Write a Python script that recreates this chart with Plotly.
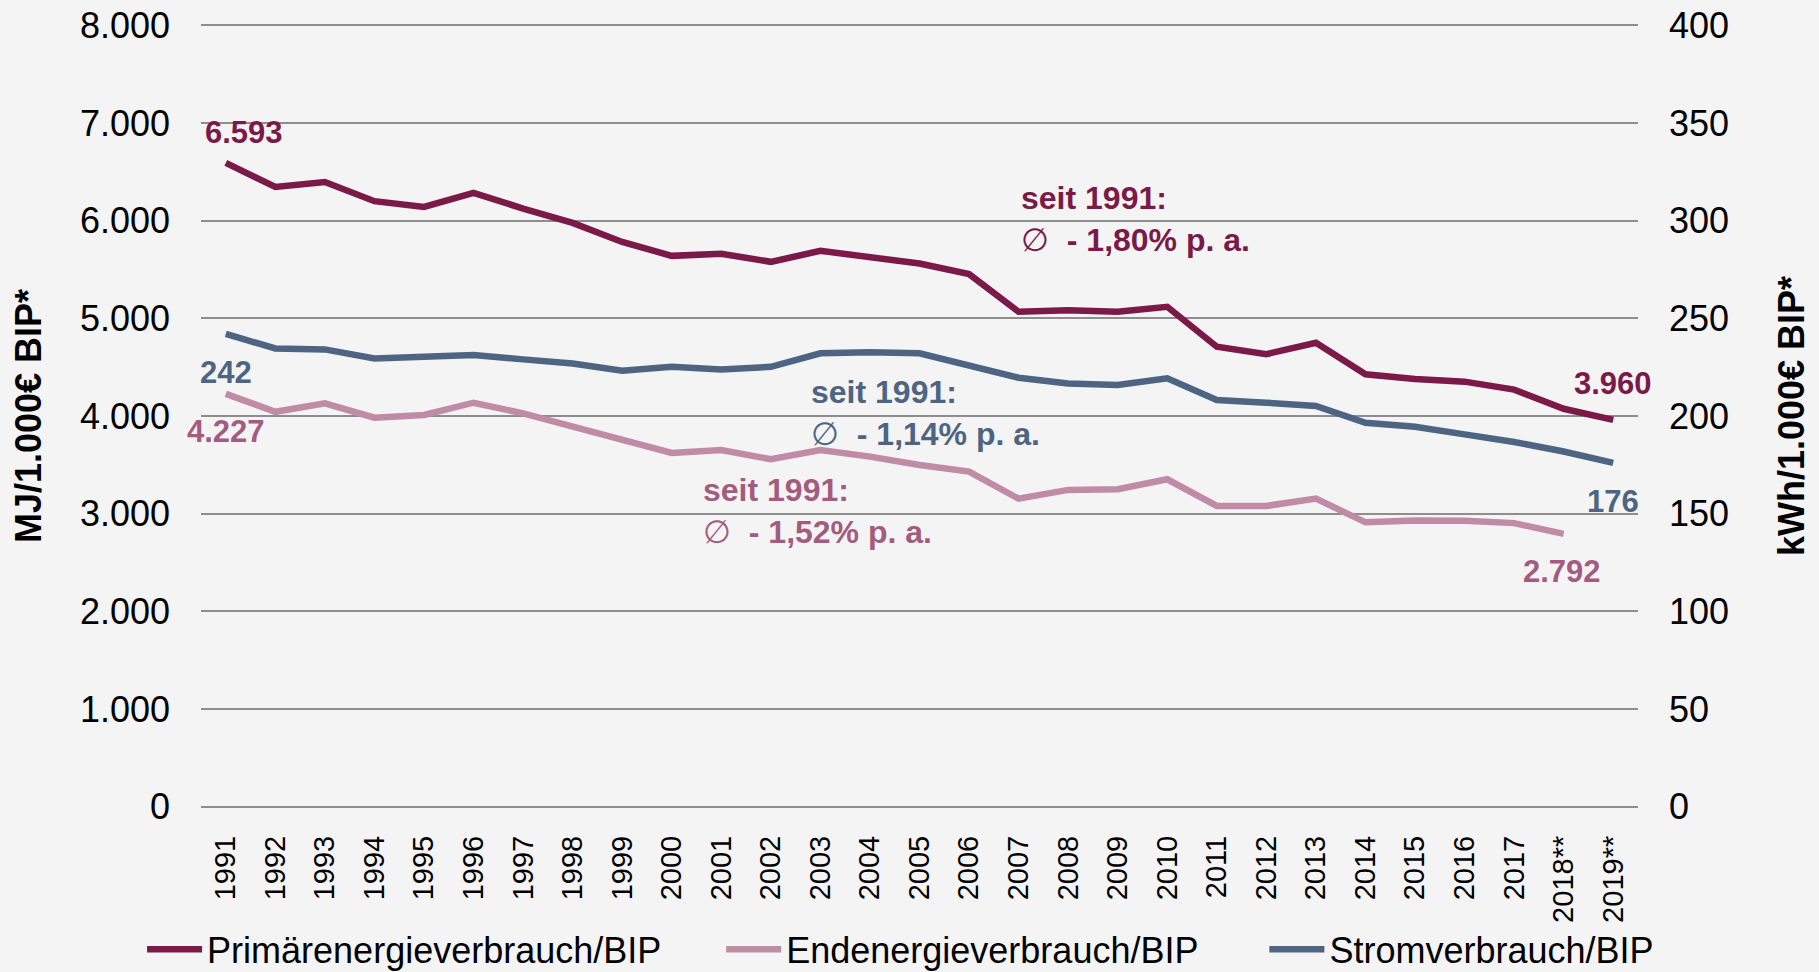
import plotly.graph_objects as go

years = ["1991", "1992", "1993", "1994", "1995", "1996", "1997", "1998", "1999", "2000",
         "2001", "2002", "2003", "2004", "2005", "2006", "2007", "2008", "2009", "2010",
         "2011", "2012", "2013", "2014", "2015", "2016", "2017", "2018**", "2019**"]

primaer = [6593, 6346, 6397, 6200, 6141, 6285, 6125, 5978, 5783, 5640,
           5662, 5579, 5691, 5620, 5562, 5453, 5067, 5084, 5067, 5118,
           4709, 4634, 4750, 4427, 4380, 4352, 4270, 4074, 3960]

endenergie = [4227, 4043, 4129, 3983, 4010, 4136, 4027, 3890, 3754, 3622,
              3652, 3557, 3652, 3584, 3499, 3430, 3153, 3243, 3250, 3352,
              3079, 3079, 3154, 2911, 2931, 2927, 2903, 2792, None]

strom = [242, 234.6, 234.1, 229.5, 230.3, 231.2, 229.0, 226.9, 223.2, 225.2,
         223.8, 225.2, 232.1, 232.6, 232.1, 225.6, 219.6, 216.7, 215.9, 219.3,
         208.2, 206.8, 205.1, 196.5, 194.5, 190.6, 186.7, 181.8, 176]

names = ["Primärenergieverbrauch/BIP", "Endenergieverbrauch/BIP", "Stromverbrauch/BIP"]
left_ticks = [0, 1000, 2000, 3000, 4000, 5000, 6000, 7000, 8000]
right_ticks = [0, 50, 100, 150, 200, 250, 300, 350, 400]

C_PRIM = "#7B1A48"
C_END = "#C08BA4"
C_END_TXT = "#A35C80"
C_STROM = "#4D6582"
FONT = "Liberation Sans, Arial, sans-serif"

fig = go.Figure()
fig.add_trace(go.Scatter(x=years, y=primaer, name=names[0], mode="lines", legend="legend",
                         line=dict(color=C_PRIM, width=6.5)))
fig.add_trace(go.Scatter(x=years, y=endenergie, name=names[1], mode="lines", legend="legend2",
                         line=dict(color=C_END, width=6.5)))
fig.add_trace(go.Scatter(x=years, y=strom, name=names[2], mode="lines", yaxis="y2", legend="legend3",
                         line=dict(color=C_STROM, width=6.5)))

def fmt(v):
    return f"{v:,.0f}".replace(",", ".")

first = 0
last = len(years) - 1
end_last = max(i for i, v in enumerate(endenergie) if v is not None)

labels = [
    dict(x=first, y=primaer[first], yref="y", text=fmt(primaer[first]), color=C_PRIM, xs=18, ys=30),
    dict(x=first, y=strom[first], yref="y2", text=fmt(strom[first]), color=C_STROM, xs=0, ys=-39),
    dict(x=first, y=endenergie[first], yref="y", text=fmt(endenergie[first]), color=C_END_TXT, xs=0, ys=-38),
    dict(x=last, y=primaer[last], yref="y", text=fmt(primaer[last]), color=C_PRIM, xs=0, ys=36),
    dict(x=last, y=strom[last], yref="y2", text=fmt(strom[last]), color=C_STROM, xs=0, ys=-39),
    dict(x=end_last, y=endenergie[end_last], yref="y", text=fmt(endenergie[end_last]), color=C_END_TXT, xs=-2, ys=-38),
]
annotations = []
for l in labels:
    annotations.append(dict(x=l["x"], y=l["y"], xref="x", yref=l["yref"], text="<b>" + l["text"] + "</b>",
                            showarrow=False, xshift=l["xs"], yshift=l["ys"],
                            font=dict(family=FONT, size=31, color=l["color"])))

notes = [
    ("1,80", C_PRIM, 0.569, 0.7507),
    ("1,14", C_STROM, 0.423, 0.5040),
    ("1,52", C_END_TXT, 0.348, 0.3791),
]
for rate, col, xp, yp in notes:
    annotations.append(dict(x=xp, y=yp, xref="paper", yref="paper", xanchor="left", yanchor="middle",
                            align="left", showarrow=False,
                            text="<b>seit 1991:</b><br>\u2205\u00a0\u00a0<b>- " + rate + "% p. a.</b>",
                            font=dict(family=FONT, size=32, color=col)))

leg_common = dict(orientation="h", xanchor="left", y=-0.1785, yanchor="middle",
                  font=dict(family=FONT, size=36, color="#000000"), bgcolor="rgba(0,0,0,0)",
                  itemwidth=55)

fig.update_layout(
    width=1819, height=972,
    margin=dict(l=201, r=181, t=23, b=163, autoexpand=False),
    paper_bgcolor="#F4F4F4", plot_bgcolor="#F4F4F4",
    separators=",.",
    showlegend=True,
    legend=dict(x=-0.041, **leg_common),
    legend2=dict(x=0.362, **leg_common),
    legend3=dict(x=0.740, **leg_common),
    annotations=annotations,
    xaxis=dict(type="category", tickangle=-90, tickfont=dict(family=FONT, size=29, color="#000"),
               showgrid=False, showline=False, ticks="", ticklen=0, range=[-0.5, 28.5],
               ticklabelstandoff=20, automargin=False),
    yaxis=dict(range=[-25, 8025], tickvals=left_ticks, tickformat=",d", separatethousands=True,
               tickfont=dict(family=FONT, size=36, color="#000"), showgrid=True,
               gridcolor="#8E8E8E", gridwidth=2, zeroline=False, ticks="", ticklabelstandoff=30,
               automargin=False,
               title=dict(text="<b>MJ/1.000€ BIP*</b>", font=dict(family=FONT, size=36, color="#000"),
                          standoff=27)),
    yaxis2=dict(range=[-1.25, 401.25], tickvals=right_ticks, overlaying="y", side="right",
                tickfont=dict(family=FONT, size=36, color="#000"), showgrid=False, zeroline=False,
                ticks="", ticklabelstandoff=30, automargin=False,
                title=dict(text="<b>kWh/1.000€ BIP*</b>", font=dict(family=FONT, size=36, color="#000"),
                           standoff=50)),
)

fig.write_html("out.html", config={"displayModeBar": False},
               post_script="document.body.style.margin='0';document.body.style.overflow='hidden';")
